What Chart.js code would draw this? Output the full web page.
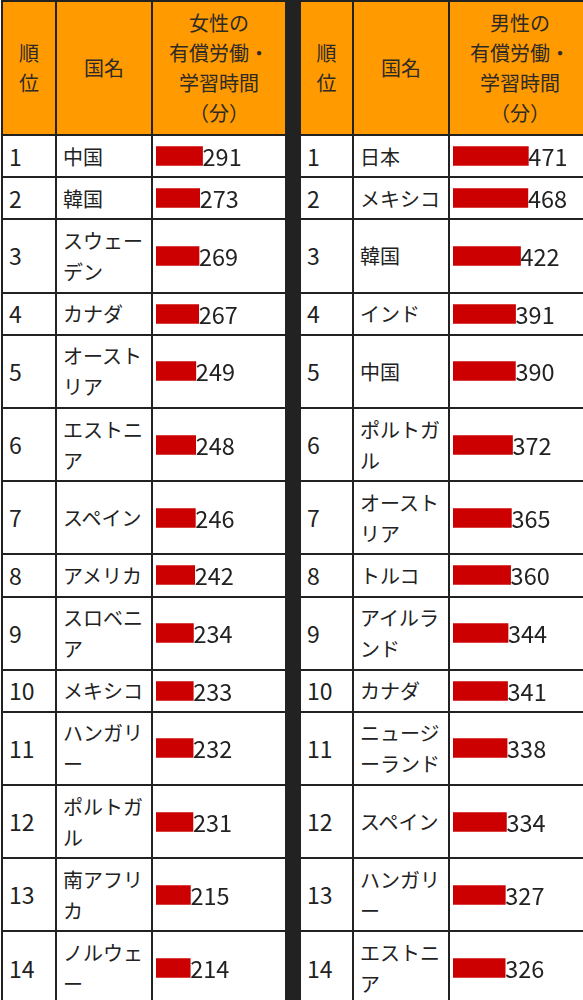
<!DOCTYPE html>
<html lang="ja">
<head>
<meta charset="utf-8">
<script src="https://cdn.jsdelivr.net/npm/chart.js@4"></script>
<style>
  html, body { margin: 0; padding: 0; background: #fff; overflow: hidden; }
  body { width: 583px; height: 1000px; font-family: "Noto Sans CJK JP", "Noto Sans", sans-serif; color: #222; }
  table { position: absolute; left: 1px; top: 0px; border-collapse: collapse; table-layout: fixed; width: 589px; }
  td, th { border: 2px solid #222; padding: 4.6px 0; font-weight: normal; line-height: 31px; font-size: 20px; vertical-align: middle; }
  th { background: #ff9a00; color: #2e2a24; text-align: center; line-height: 30px; padding: 6px 0; }
  td.rank { font-size: 23px; padding-left: 6px; }
  td.name { padding-left: 6px; padding-right: 4px; line-break: anywhere; word-break: break-all; }
  td.bar { padding-left: 3px; }
  td.bar canvas { display: block; }
  .sep { background: #222; border-color: #222; padding: 0; }
</style>
</head>
<body>
<table id="tbl">
  <colgroup>
    <col style="width:54px"><col style="width:96px"><col style="width:134px">
    <col style="width:14px">
    <col style="width:53px"><col style="width:96px"><col style="width:142px">
  </colgroup>
  <thead><tr id="head"></tr></thead>
  <tbody id="body"></tbody>
</table>
<script>
// header labels
const headRank = ['順', '位'];
const headName = ['国名'];
const headWomen = ['女性の', '有償労働・', '学習時間', '（分）'];
const headMen = ['男性の', '有償労働・', '学習時間', '（分）'];

// ranking data (minutes per day)
const ranks = [1, 2, 3, 4, 5, 6, 7, 8, 9, 10, 11, 12, 13, 14];
const womenCountries = ['中国', '韓国', 'スウェーデン', 'カナダ', 'オーストリア', 'エストニア', 'スペイン',
  'アメリカ', 'スロベニア', 'メキシコ', 'ハンガリー', 'ポルトガル', '南アフリカ', 'ノルウェー'];
const womenMinutes = [291, 273, 269, 267, 249, 248, 246, 242, 234, 233, 232, 231, 215, 214];
const menCountries = ['日本', 'メキシコ', '韓国', 'インド', '中国', 'ポルトガル', 'オーストリア',
  'トルコ', 'アイルランド', 'カナダ', 'ニュージーランド', 'スペイン', 'ハンガリー', 'エストニア'];
const menMinutes = [471, 468, 422, 391, 390, 372, 365, 360, 344, 341, 338, 334, 327, 326];

const xMax = 800;       // shared scale so bar lengths compare across cells
const barColor = '#cc0000';

const headRow = document.getElementById('head');
const bodyEl = document.getElementById('body');

function th(lines) {
  const c = document.createElement('th');
  c.innerHTML = lines.join('<br>');
  return c;
}
function sepCell(tag) {
  const c = document.createElement(tag);
  c.className = 'sep';
  return c;
}
[th(headRank), th(headName), th(headWomen), sepCell('th'), th(headRank), th(headName), th(headMen)]
  .forEach(c => headRow.appendChild(c));

// draws the number right after the end of the bar
const valueLabel = {
  id: 'valueLabel',
  afterDatasetsDraw(chart) {
    const { ctx } = chart;
    const ds = chart.data.datasets[0];
    chart.getDatasetMeta(0).data.forEach((bar, i) => {
      ctx.save();
      ctx.font = '23.5px "Noto Sans CJK JP", sans-serif';
      ctx.fillStyle = '#222';
      ctx.textAlign = 'left';
      ctx.textBaseline = 'middle';
      ctx.fillText(String(ds.data[i]), bar.x, bar.y + 1);
      ctx.restore();
    });
  }
};

function barCell(label, value) {
  const c = document.createElement('td');
  c.className = 'bar';
  const cv = document.createElement('canvas');
  cv.width = 128;
  cv.height = 28;
  c.appendChild(cv);
  new Chart(cv, {
    type: 'bar',
    data: { labels: [label], datasets: [{ data: [value], backgroundColor: barColor, borderWidth: 0, barThickness: 19 }] },
    options: {
      indexAxis: 'y',
      responsive: false,
      animation: false,
      events: [],
      layout: { padding: 0 },
      scales: { x: { display: false, min: 0, max: xMax }, y: { display: false } },
      plugins: { legend: { display: false }, tooltip: { enabled: false } }
    },
    plugins: [valueLabel]
  });
  return c;
}
function textCell(cls, text) {
  const c = document.createElement('td');
  c.className = cls;
  c.textContent = text;
  return c;
}

ranks.forEach((r, i) => {
  const tr = document.createElement('tr');
  bodyEl.appendChild(tr);
  tr.appendChild(textCell('rank', r));
  tr.appendChild(textCell('name', womenCountries[i]));
  tr.appendChild(barCell(womenCountries[i], womenMinutes[i]));
  tr.appendChild(sepCell('td'));
  tr.appendChild(textCell('rank', r));
  tr.appendChild(textCell('name', menCountries[i]));
  tr.appendChild(barCell(menCountries[i], menMinutes[i]));
});
</script>
</body>
</html>
